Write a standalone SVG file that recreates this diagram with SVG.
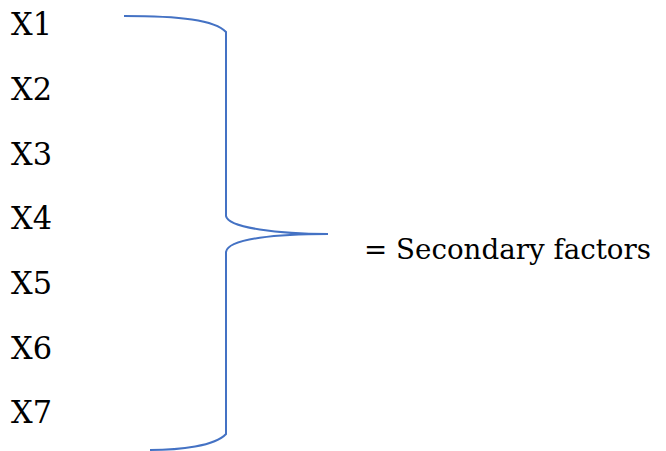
<svg xmlns="http://www.w3.org/2000/svg" width="666" height="451" viewBox="0 0 666 451">
<style>
.t{font-family:"DejaVu Serif",serif;font-size:32px;fill:#000}
.r{font-size:28px}
.b{fill:none;stroke:#4472C4;stroke-width:2}
</style>
<rect width="666" height="451" fill="#fff"/>
<g id="labels">
<g id="x1"><text class="t" x="11" y="35" textLength="41" lengthAdjust="spacingAndGlyphs">X1</text></g>
<g id="x2"><text class="t" x="11" y="100" textLength="41" lengthAdjust="spacingAndGlyphs">X2</text></g>
<g id="x3"><text class="t" x="11" y="165" textLength="41" lengthAdjust="spacingAndGlyphs">X3</text></g>
<g id="x4"><text class="t" x="11" y="229" textLength="41" lengthAdjust="spacingAndGlyphs">X4</text></g>
<g id="x5"><text class="t" x="11" y="294" textLength="41" lengthAdjust="spacingAndGlyphs">X5</text></g>
<g id="x6"><text class="t" x="11" y="359" textLength="41" lengthAdjust="spacingAndGlyphs">X6</text></g>
<g id="x7"><text class="t" x="11" y="423" textLength="41" lengthAdjust="spacingAndGlyphs">X7</text></g>
<g id="result"><text class="t r" x="364" y="259" textLength="287" lengthAdjust="spacingAndGlyphs">= Secondary factors</text></g>
</g>
<g id="connectors">
<path class="b" d="M124,16 C180,16 215,20 226,32 L226,216 C228,228 280,234 328,234 C280,234 228,238 226,252 L226,434 C215,446 180,450 150,450"/>
</g>
</svg>
